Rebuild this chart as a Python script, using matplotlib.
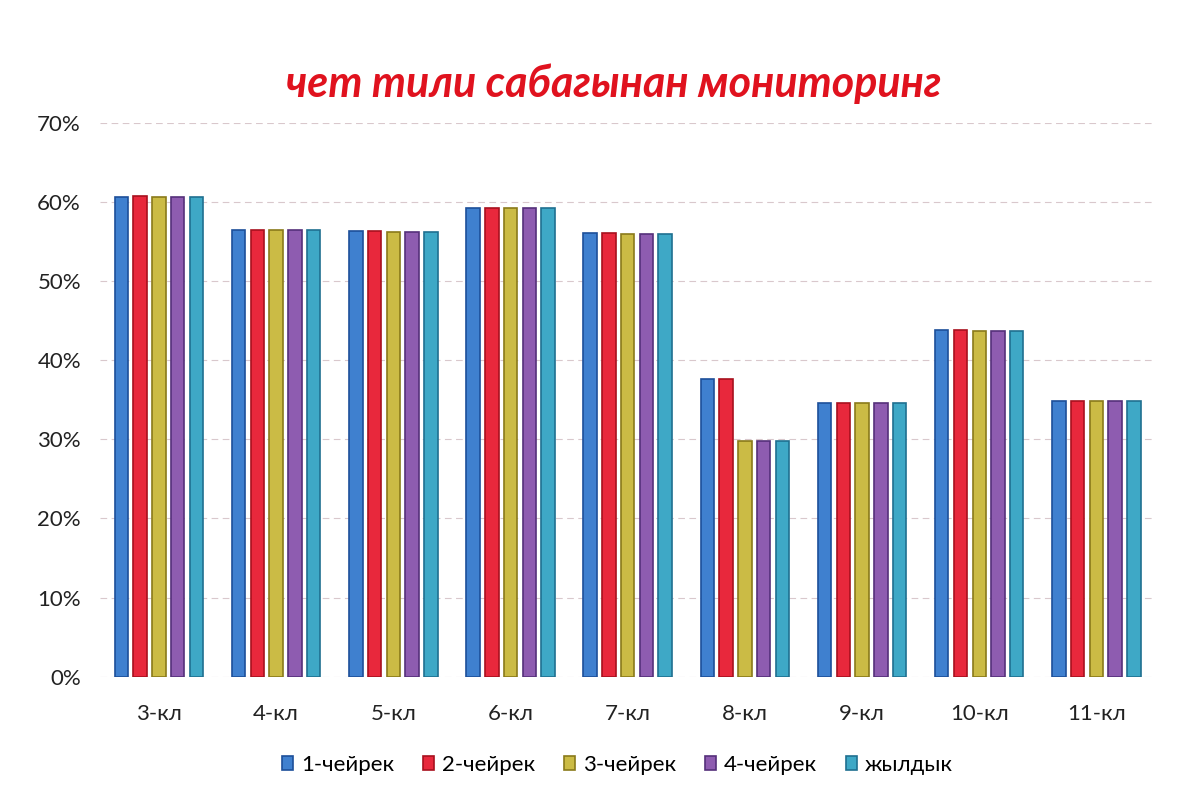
import matplotlib.pyplot as plt
import numpy as np
from matplotlib.ticker import PercentFormatter

# data
classes = ['3-кл', '4-кл', '5-кл', '6-кл', '7-кл', '8-кл', '9-кл', '10-кл', '11-кл']
q1 = [60.6, 56.5, 56.3, 59.3, 56.1, 37.6, 34.6, 43.8, 34.9]
q2 = [60.7, 56.5, 56.3, 59.3, 56.1, 37.6, 34.6, 43.8, 34.9]
q3 = [60.6, 56.5, 56.2, 59.2, 56.0, 29.8, 34.6, 43.7, 34.8]
q4 = [60.6, 56.5, 56.2, 59.2, 56.0, 29.8, 34.6, 43.7, 34.8]
year = [60.6, 56.5, 56.2, 59.2, 56.0, 29.8, 34.6, 43.7, 34.8]
series_names = ['1-чейрек', '2-чейрек', '3-чейрек', '4-чейрек', 'жылдык']

colors = ['#3f80cf', '#e8283c', '#cbbb45', '#8e5cb0', '#3ea8c6']
edges = ['#1d4f9a', '#a8101e', '#8a7a1a', '#55307a', '#1f7090']

plt.rcParams['font.family'] = ['Lato', 'DejaVu Sans']

fig = plt.figure(figsize=(11.81, 7.98), dpi=100)
ax = fig.add_axes([0.085, 0.152, 0.893, 0.694])

x = np.arange(len(classes))
step = 0.16
width = 0.115
for i, vals in enumerate([q1, q2, q3, q4, year]):
    ax.bar(x + (i - 2) * step, vals, width, color=colors[i], edgecolor=edges[i],
           linewidth=1.2, label=series_names[i], zorder=3)

ax.set_xlim(-0.5, len(classes) - 0.5)
ax.set_ylim(0, 70)
ax.set_yticks(np.arange(0, 71, 10))
ax.yaxis.set_major_formatter(PercentFormatter(decimals=0))
ax.set_xticks(x)
ax.set_xticklabels(classes)
ax.tick_params(axis='both', length=0, labelsize=16, colors='#222222')
ax.tick_params(axis='x', pad=20)
ax.tick_params(axis='y', pad=14)
ax.grid(axis='y', color='#d9c8cc', linestyle=(0, (6, 4)), linewidth=0.8, zorder=0)
for s in ax.spines.values():
    s.set_visible(False)

fig.suptitle('чет тили сабагынан мониторинг', x=0.52, y=0.92, color='#e0121e',
             fontsize=31, fontweight='bold', fontstyle='italic')

ax.legend(loc='upper center', bbox_to_anchor=(0.49, -0.105), ncol=5, frameon=False,
          fontsize=16, handlelength=0.5, handleheight=0.55, handletextpad=0.35,
          columnspacing=1.3)

fig.savefig('out.png')
